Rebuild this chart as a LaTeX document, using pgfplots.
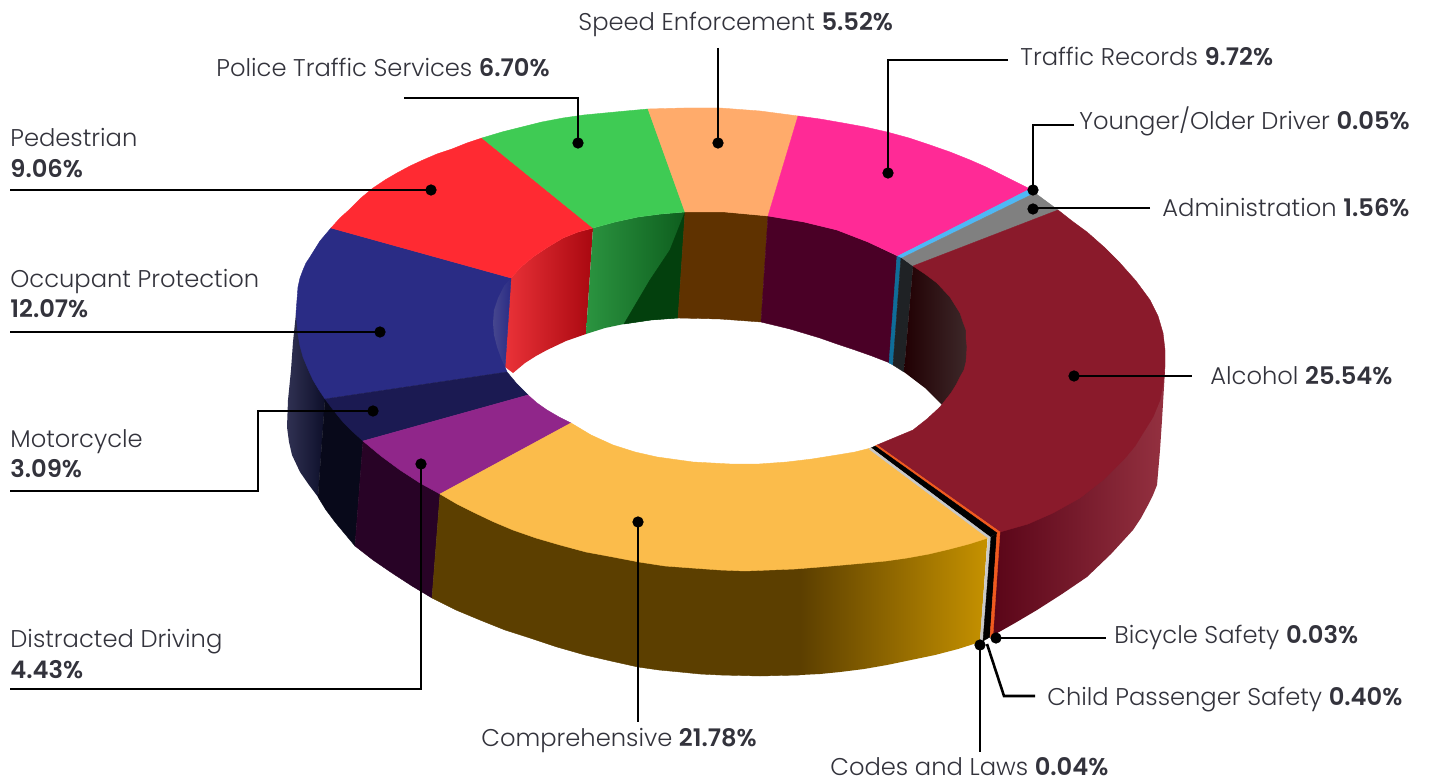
\documentclass[border=0pt]{standalone}
\usepackage{pgfplots}
\pgfplotsset{compat=1.18}
\usepackage{fontspec}
\setmainfont{Poppins}[UprightFont=* Light,BoldFont=* SemiBold]
\definecolor{txt}{HTML}{33333C}
\definecolor{navy}{HTML}{2A2C85}
\definecolor{navyhi}{HTML}{46468E}
\definecolor{navywallA}{HTML}{303152}
\definecolor{navywallB}{HTML}{0D0F2A}
\definecolor{moto}{HTML}{1B1A52}
\definecolor{motowall}{HTML}{08091A}
\definecolor{purp}{HTML}{90268A}
\definecolor{purpwall}{HTML}{280326}
\definecolor{yel}{HTML}{FBBC4B}
\definecolor{yelwall}{HTML}{5C3F00}
\definecolor{yelwallB}{HTML}{C69200}
\definecolor{codes}{HTML}{C8C8C8}
\definecolor{bike}{HTML}{F05A1E}
\definecolor{alc}{HTML}{8A1A2B}
\definecolor{alcwallA}{HTML}{5A0518}
\definecolor{alcwallB}{HTML}{943140}
\definecolor{alcinA}{HTML}{210003}
\definecolor{alcinB}{HTML}{3F2B2C}
\definecolor{red1}{HTML}{FF2A32}
\definecolor{redwallA}{HTML}{EA3238}
\definecolor{redwallB}{HTML}{A90810}
\definecolor{grn}{HTML}{3FCB54}
\definecolor{grnwallA}{HTML}{2B9440}
\definecolor{grnwallB}{HTML}{0E5E1E}
\definecolor{grndark}{HTML}{03400D}
\definecolor{org}{HTML}{FFAB6B}
\definecolor{orgwall}{HTML}{5F3200}
\definecolor{pnk}{HTML}{FF2A96}
\definecolor{pnkwall}{HTML}{4A0026}
\definecolor{blu}{HTML}{4FB8F5}
\definecolor{bluwall}{HTML}{0F6D99}
\definecolor{adm}{HTML}{808080}
\definecolor{admwall}{HTML}{1F2225}
\tikzset{
  lab/.style={anchor=base west,inner sep=0pt,text=txt,font=\fontsize{12.1pt}{14pt}\selectfont},
}
\pgfplotsset{
  face/.style={fill=#1,draw=#1,line width=0.2pt},
  grad/.style 2 args={draw=none,left color=#1,right color=#2},
  lead/.style={draw=black,line width=1.3pt,no markers,line join=miter},
  dot/.style={only marks,mark=*,mark size=2.6pt,mark options={fill=black,draw=black}},
}
\begin{document}
\begin{tikzpicture}
\begin{axis}[
  scale only axis,
  width=716pt,height=390pt,
  xmin=0,xmax=1432,ymin=0,ymax=780,
  y dir=reverse,
  hide axis,
  clip=false,
]
% page
\addplot[fill=white,draw=none] coordinates {(0,0)(1432,0)(1432,780)(0,780)} --cycle;

% outer walls
\addplot[grad={navywallA}{navywallB}] coordinates {(296,313)(293,342)(291,370)(288,400)(287,427)(289,442)(292,455)(300,472)(309,485)(318,497)(325,399)} --cycle;
\addplot[face=motowall] coordinates {(325,399)(318,497)(326,510)(335,522)(345,534)(355,546)(363,441)} --cycle;
\addplot[face=purpwall] coordinates {(363,441)(355,546)(373,560)(392,573)(412,586)(432,598)(440,494)} --cycle;
\addplot[face=yelwall] coordinates {(440,494)(432,598)(456,610)(480,620)(505,630)(530,638)(557,647)(585,655)(611,661)(638,667)(659,670)(680,672)(700,674)(720,675)(760,676)(800,675)(800,560)(720,560)(613,550)(513,525)} --cycle;
\addplot[grad={yelwall}{yelwallB}] coordinates {(800,560)(988,530)(980,642)(958,649)(935,655)(911,660)(887,665)(864,669)(840,672)(820,674)(800,675)} --cycle;
\addplot[face=codes] coordinates {(988,538)(991,537)(983,641)(980,642)} --cycle;
\addplot[face=black] coordinates {(991,537)(997,533)(990,637)(983,641)} --cycle;
\addplot[grad={alcwallA}{alcwallB}] coordinates {(999,528)(992,636)(1015,623)(1037,610)(1062,594)(1087,577)(1111,554)(1133,530)(1141,518)(1148,505)(1153,495)(1157,485)(1160,450)(1162,420)(1165,370)(1143,425)(1103,470)(1053,505)} --cycle;
\addplot[face=bike] coordinates {(997,533)(1000,532)(993,635)(990,637)} --cycle;

% inner walls
\addplot[grad={redwallA}{redwallB}] coordinates {(511,278)(521,267)(533,257)(548,247)(563,238)(578,232)(593,228)(586,334)(566,341)(547,350)(536,356)(525,363)(513,373)(505,367)} --cycle;
\addplot[grad={grnwallA}{grnwallB}] coordinates {(593,228)(615,222)(638,217)(661,214)(685,212)(678,318)(651,320)(624,324)(605,328)(586,334)} --cycle;
\addplot[face=grndark] coordinates {(624,324)(651,320)(678,318)(685,212)(670,250)(650,280)} --cycle;
\addplot[face=orgwall] coordinates {(685,212)(725,212)(768,216)(761,322)(720,319)(678,318)} --cycle;
\addplot[face=pnkwall] coordinates {(768,216)(804,222)(837,230)(868,242)(897,256)(890,363)(872,356)(855,350)(837,344)(820,338)(790,329)(761,322)} --cycle;
\addplot[face=bluwall] coordinates {(897,256)(901,257)(893,365)(889,363)} --cycle;
\addplot[face=admwall] coordinates {(901,257)(913,266)(904,372)(893,365)} --cycle;
\addplot[grad={alcinA}{alcinB}] coordinates {(913,266)(937,275)(955,290)(968,313)(972,347)(966,380)(942,405)(925,388)(904,372)} --cycle;

% top faces
\addplot[face=navy] coordinates {(325,399)(319,390)(313,380)(308,369)(303,357)(300,346)(298,335)(297,324)(296,313)(297,300)(298,287)(300,278)(303,270)(306,263)(310,257)(315,249)(320,241)(331,228)(511,278)(505,367)(507,372)} --cycle;
\addplot[grad={navyhi}{navy}] coordinates {(511,278)(504,286)(498,298)(494,310)(493,323)(494,335)(497,347)(501,358)(505,367)} --cycle;
\addplot[face=red1] coordinates {(331,228)(340,218)(350,209)(361,198)(373,188)(385,180)(397,173)(410,166)(423,160)(437,154)(452,149)(467,143)(482,138)(593,228)(578,232)(563,238)(548,247)(533,257)(521,267)(511,278)} --cycle;
\addplot[face=grn] coordinates {(482,138)(502,132)(522,127)(542,122)(563,118)(584,115)(605,113)(626,111)(648,109)(685,212)(661,214)(638,217)(615,222)(593,228)} --cycle;
\addplot[face=org] coordinates {(648,109)(684,108)(720,108)(760,111)(798,116)(768,216)(725,212)(685,212)} --cycle;
\addplot[face=pnk] coordinates {(798,116)(820,119)(843,123)(865,127)(887,132)(909,138)(930,145)(950,152)(970,160)(986,167)(1002,175)(1016,182)(1030,189)(898,256)(868,242)(837,230)(804,222)(768,216)} --cycle;
\addplot[face=blu] coordinates {(1030,189)(1035,193)(902,258)(898,256)} --cycle;
\addplot[face=adm] coordinates {(1035,193)(1058,210)(913,266)(902,258)} --cycle;
\addplot[face=alc] coordinates {(1058,210)(1072,221)(1087,232)(1104,247)(1120,263)(1136,281)(1150,300)(1158,316)(1163,333)(1165,350)(1165,367)(1163,384)(1160,400)(1153,417)(1143,433)(1135,446)(1125,458)(1103,480)(1080,498)(1053,513)(1028,524)(1000,532)(877,445)(913,430)(927,419)(940,407)(951,393)(956,385)(960,377)(964,370)(966,362)(967,347)(966,338)(966,330)(963,322)(960,313)(955,305)(950,297)(937,283)(925,274)(913,266)} --cycle;
\addplot[face=bike] coordinates {(875,446)(877,445)(1000,532)(997,533)} --cycle;
\addplot[face=black] coordinates {(871,448)(875,446)(997,533)(990,537)} --cycle;
\addplot[face=moto] coordinates {(325,399)(507,372)(517,384)(528,395)(363,441)(353,432)(343,422)(334,411)} --cycle;
\addplot[face=purp] coordinates {(363,441)(528,395)(537,403)(547,410)(559,417)(571,423)(440,494)(420,483)(400,470)(381,456)} --cycle;
\addplot[face=yel] coordinates {(440,494)(457,504)(475,513)(494,522)(513,530)(536,538)(560,545)(586,552)(613,557)(639,562)(665,566)(692,568)(720,570)(745,571)(770,570)(795,569)(820,567)(843,565)(865,563)(886,561)(907,558)(929,554)(950,549)(969,544)(988,538)(871,448)(855,452)(837,455)(812,459)(787,462)(759,464)(730,464)(693,462)(657,457)(635,452)(613,445)(591,435)(571,423)} --cycle;
\addplot[face=codes] coordinates {(869,449)(871,448)(990,537)(988,538)} --cycle;

% leaders
\addplot[lead] coordinates {(718,48)(718,143)};
\addplot[lead] coordinates {(404,98)(578,98)(578,143)};
\addplot[lead] coordinates {(1008,60)(888,60)(888,173)};
\addplot[lead] coordinates {(1074,125)(1033,125)(1033,190)};
\addplot[lead] coordinates {(1150,208)(1033,208)};
\addplot[lead] coordinates {(1074,376)(1192,376)};
\addplot[lead] coordinates {(10,190)(431,190)};
\addplot[lead] coordinates {(10,332)(380,332)};
\addplot[lead] coordinates {(10,491)(258,491)(258,411)(373,411)};
\addplot[lead] coordinates {(10,689)(421,689)(421,464)};
\addplot[lead] coordinates {(638,522)(638,722)};
\addplot[lead] coordinates {(996,638)(1106,638)};
\addplot[lead] coordinates {(987,644)(1004,696)(1035,696)};
\addplot[lead] coordinates {(980,645)(980,752)};
\addplot[dot] coordinates {(718,143)(578,143)(888,173)(1033,190)(1033,209)(1074,376)(431,190)(380,332)(373,411)(421,464)(638,522)(996,638)(980,645)};

% labels
\node[lab] at (axis cs:578,31) {Speed Enforcement \textbf{5.52\%}};
\node[lab] at (axis cs:216,77) {Police Traffic Services \textbf{6.70\%}};
\node[lab] at (axis cs:1020,66) {Traffic Records \textbf{9.72\%}};
\node[lab] at (axis cs:1079,130) {Younger/Older Driver \textbf{0.05\%}};
\node[lab] at (axis cs:1162,217) {Administration \textbf{1.56\%}};
\node[lab] at (axis cs:1210,384) {Alcohol \textbf{25.54\%}};
\node[lab] at (axis cs:10,147) {Pedestrian};
\node[lab] at (axis cs:10,178) {\textbf{9.06\%}};
\node[lab] at (axis cs:10,287) {Occupant Protection};
\node[lab] at (axis cs:10,317) {\textbf{12.07\%}};
\node[lab] at (axis cs:10,447) {Motorcycle};
\node[lab] at (axis cs:10,477) {\textbf{3.09\%}};
\node[lab] at (axis cs:10,647) {Distracted Driving};
\node[lab] at (axis cs:10,678) {\textbf{4.43\%}};
\node[lab] at (axis cs:481,746) {Comprehensive \textbf{21.78\%}};
\node[lab] at (axis cs:1114,643) {Bicycle Safety \textbf{0.03\%}};
\node[lab] at (axis cs:1047,705) {Child Passenger Safety \textbf{0.40\%}};
\node[lab] at (axis cs:830,775) {Codes and Laws \textbf{0.04\%}};
\end{axis}
\end{tikzpicture}
\end{document}
